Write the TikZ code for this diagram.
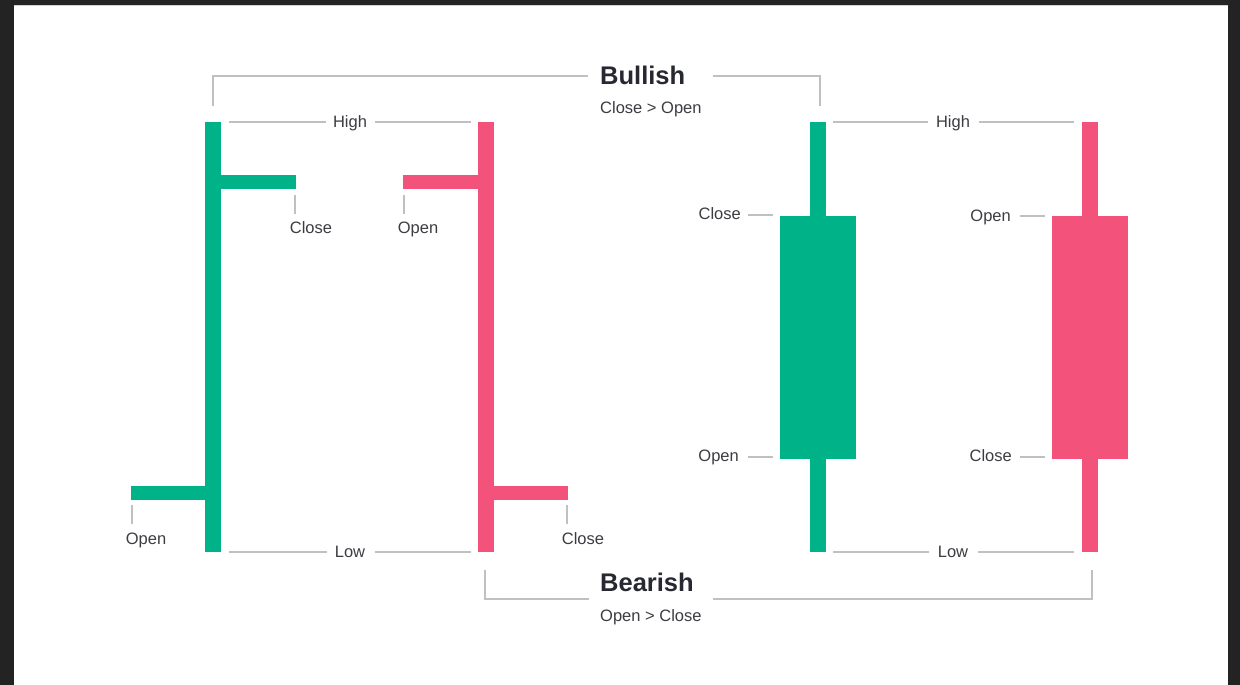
\documentclass[tikz,border=0pt]{standalone}
\usepackage{fontspec}
\setmainfont{Liberation Sans}
\definecolor{bull}{RGB}{0,178,135}
\definecolor{bear}{RGB}{243,82,123}
\definecolor{guide}{RGB}{192,192,192}
\definecolor{lbl}{RGB}{60,60,66}
\definecolor{head}{RGB}{40,40,50}
\definecolor{frame}{RGB}{35,35,35}
\tikzset{
  lab/.style={inner sep=0pt, text=lbl, font=\fontsize{16.5}{19}\selectfont, text height=12pt, text depth=3.5pt, yshift=-1.5pt},
  headline/.style={inner sep=0pt, text=head, font=\fontsize{25.5}{30}\selectfont\bfseries},
  guideline/.style={draw=guide, line width=1.1pt},
  bullfill/.style={fill=bull},
  bearfill/.style={fill=bear}
}
\begin{document}
\begin{tikzpicture}[x=1pt,y=-1pt]
\useasboundingbox (0,0) rectangle (1240,685);
\fill[frame] (0,0) rectangle (1240,685);
\fill[white] (14,5) rectangle (1228,685);
\draw[guide!70, line width=1pt] (14,5.5) -- (1228,5.5);

% ---- Bar charts (OHLC) ----
\fill[bullfill] (205,122) rectangle (221,552);
\fill[bullfill] (221,175) rectangle (296,189);
\fill[bullfill] (131,486) rectangle (205,500);
\fill[bearfill] (478,122) rectangle (494,552);
\fill[bearfill] (403,175) rectangle (478,189);
\fill[bearfill] (494,486) rectangle (568,500);

% ---- Candlesticks ----
\fill[bullfill] (810,122) rectangle (826,552);
\fill[bullfill] (780,216) rectangle (856,459);
\fill[bearfill] (1082,122) rectangle (1098,552);
\fill[bearfill] (1052,216) rectangle (1128,459);

% ---- labels left ----
\node[lab] (highL) at (350,122) {High};
\node[lab] (lowL) at (350,552) {Low};
\coordinate (h1a) at (229,122); \coordinate (h1b) at (326,122);
\coordinate (h1c) at (375,122); \coordinate (h1d) at (471,122);
\coordinate (l1a) at (229,552); \coordinate (l1b) at (327,552);
\coordinate (l1c) at (375,552); \coordinate (l1d) at (471,552);
\draw[guideline] (h1a) -- (h1b);
\draw[guideline] (h1c) -- (h1d);
\draw[guideline] (l1a) -- (l1b);
\draw[guideline] (l1c) -- (l1d);

\node[lab] (closeA) at (311,228) {Close};
\node[lab] (openA) at (418,228) {Open};
\node[lab] (openB) at (146,539) {Open};
\node[lab] (closeB) at (583,539) {Close};
\coordinate (ca1) at (295,195); \coordinate (ca2) at (295,214);
\coordinate (oa1) at (404,195); \coordinate (oa2) at (404,214);
\coordinate (ob1) at (132,505); \coordinate (ob2) at (132,524);
\coordinate (cb1) at (567,505); \coordinate (cb2) at (567,524);
\draw[guideline] (ca1) -- (ca2);
\draw[guideline] (oa1) -- (oa2);
\draw[guideline] (ob1) -- (ob2);
\draw[guideline] (cb1) -- (cb2);

% ---- labels right ----
\node[lab] (highR) at (953,122) {High};
\node[lab] (lowR) at (953,552) {Low};
\coordinate (h2a) at (833,122); \coordinate (h2b) at (928,122);
\coordinate (h2c) at (979,122); \coordinate (h2d) at (1074,122);
\coordinate (l2a) at (833,552); \coordinate (l2b) at (929,552);
\coordinate (l2c) at (978,552); \coordinate (l2d) at (1074,552);
\draw[guideline] (h2a) -- (h2b);
\draw[guideline] (h2c) -- (h2d);
\draw[guideline] (l2a) -- (l2b);
\draw[guideline] (l2c) -- (l2d);

\node[lab, anchor=east] (closeC) at (741,214) {Close};
\node[lab, anchor=east] (openC) at (739,456) {Open};
\node[lab, anchor=east] (openD) at (1011,216) {Open};
\node[lab, anchor=east] (closeD) at (1012,456) {Close};
\draw[guideline] (748,215) -- (773,215);
\draw[guideline] (748,457) -- (773,457);
\draw[guideline] (1020,216) -- (1045,216);
\draw[guideline] (1020,457) -- (1045,457);

% ---- Bullish bracket ----
\node[headline, anchor=west] (bull) at (600,75) {Bullish};
\node[lab, anchor=west] (bullsub) at (600,108) {Close > Open};
\coordinate (bu1) at (213,106); \coordinate (bu2) at (213,76);
\coordinate (bu3) at (588,76); \coordinate (bu4) at (713,76);
\coordinate (bu5) at (820,76); \coordinate (bu6) at (820,106);
\draw[guideline] (bu1) -- (bu2) -- (bu3);
\draw[guideline] (bu4) -- (bu5) -- (bu6);

% ---- Bearish bracket ----
\node[headline, anchor=west] (bear) at (600,582) {Bearish};
\node[lab, anchor=west] (bearsub) at (600,616) {Open > Close};
\coordinate (be1) at (485,570); \coordinate (be2) at (485,599);
\coordinate (be3) at (589,599); \coordinate (be4) at (713,599);
\coordinate (be5) at (1092,599); \coordinate (be6) at (1092,570);
\draw[guideline] (be1) -- (be2) -- (be3);
\draw[guideline] (be4) -- (be5) -- (be6);
\end{tikzpicture}
\end{document}
